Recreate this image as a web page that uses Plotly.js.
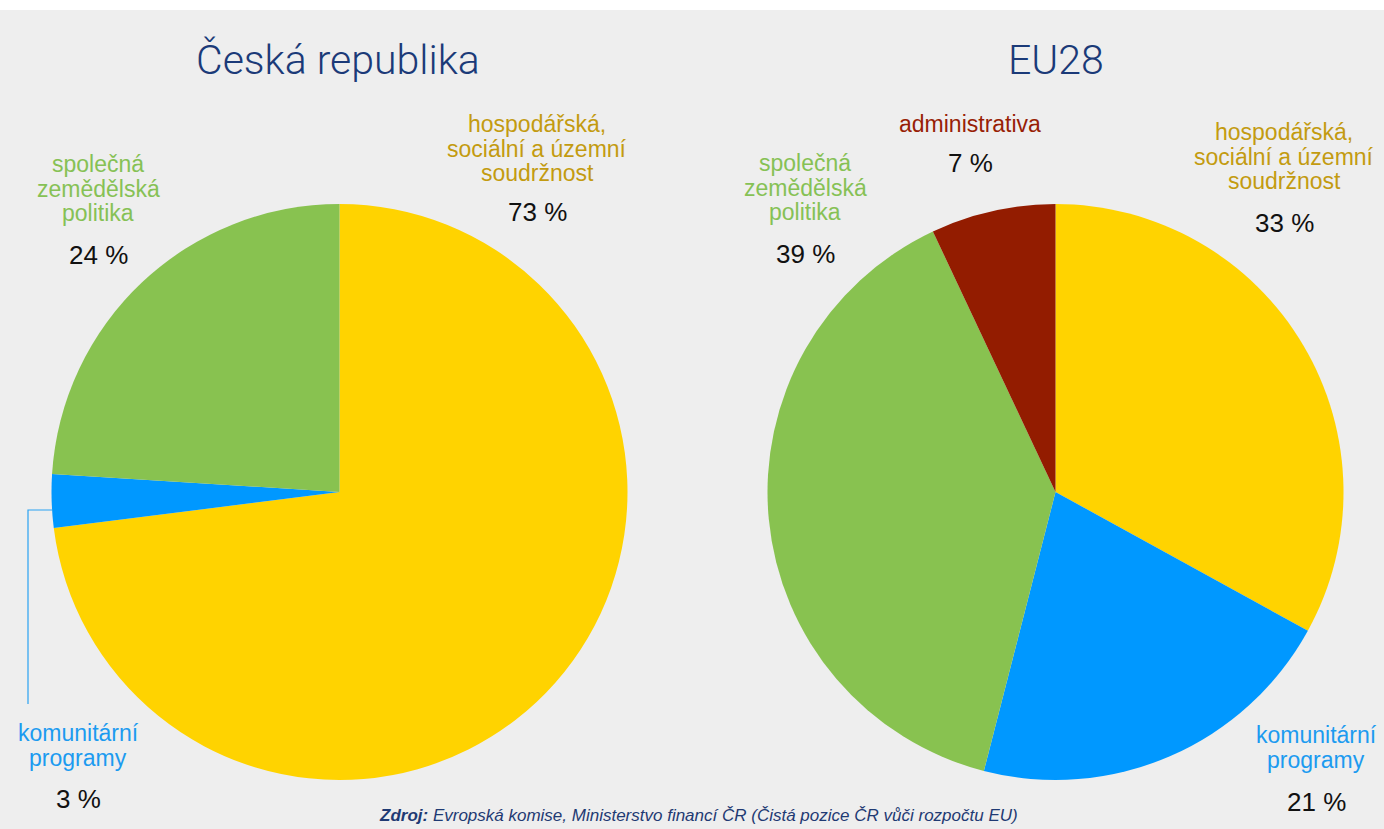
<!DOCTYPE html>
<html>
<head>
<meta charset="utf-8">
<script src="https://cdn.plot.ly/plotly-3.0.1.min.js"></script>
<style>
html,body{margin:0;padding:0;background:#ffffff;}
#chart{position:absolute;left:0;top:10px;width:1384px;height:819px;}
</style>
</head>
<body>
<div id="chart"></div>
<script>
// ---- data ----
const titleCZ = 'Česká republika';
const titleEU = 'EU28';
const labelsCZ = ['hospodářská, sociální a územní soudržnost', 'komunitární programy', 'společná zemědělská politika'];
const valuesCZ = [73, 3, 24];
const labelsEU = ['hospodářská, sociální a územní soudržnost', 'komunitární programy', 'společná zemědělská politika', 'administrativa'];
const valuesEU = [33, 21, 39, 7];
const sourceText = '<b><i>Zdroj:</i></b><i> Evropská komise, Ministerstvo financí ČR (Čistá pozice ČR vůči rozpočtu EU)</i>';

// ---- styling ----
const W = 1384, H = 819, TOP = 10;
const sliceColors = {
  'hospodářská, sociální a územní soudržnost': '#FFD300',
  'komunitární programy': '#0098FF',
  'společná zemědělská politika': '#88C250',
  'administrativa': '#931C00'
};
const textColors = {
  'hospodářská, sociální a územní soudržnost': '#C39B10',
  'komunitární programy': '#1C9BF0',
  'společná zemědělská politika': '#86C155',
  'administrativa': '#981E06'
};
const lineBreaks = {
  'hospodářská, sociální a územní soudržnost': ['hospodářská,', 'sociální a územní', 'soudržnost'],
  'komunitární programy': ['komunitární', 'programy'],
  'společná zemědělská politika': ['společná', 'zemědělská', 'politika'],
  'administrativa': ['administrativa']
};
const px = x => x / W;
const py = y => 1 - (y - TOP) / H;

// label anchor positions (page px): first line center y, percent y
const posCZ = [
  {x: 537, y: 124, py: 212},
  {x: 78, y: 733, py: 799},
  {x: 98, y: 164, py: 255}
];
const posEU = [
  {x: 1284, y: 132, py: 223},
  {x: 1316, y: 735, py: 802},
  {x: 805, y: 163, py: 254},
  {x: 970, y: 124, py: 163}
];

const labelFont = 'Liberation Sans, Arial, sans-serif';
const annotations = [];
function addLabels(labels, values, pos) {
  labels.forEach((lab, i) => {
    const p = pos[i];
    lineBreaks[lab].forEach((ln, j) => {
      annotations.push({xref: 'paper', yref: 'paper', x: px(p.x), y: py(p.y + j * 24.5),
        text: ln, showarrow: false, xanchor: 'center', yanchor: 'middle',
        font: {family: labelFont, size: 23, color: textColors[lab]}});
    });
    annotations.push({xref: 'paper', yref: 'paper', x: px(p.x), y: py(p.py),
      text: values[i] + ' %', showarrow: false, xanchor: 'center', yanchor: 'middle',
      font: {family: labelFont, size: 26, color: '#111111'}});
  });
}
addLabels(labelsCZ, valuesCZ, posCZ);
addLabels(labelsEU, valuesEU, posEU);

[[titleCZ, 338], [titleEU, 1056]].forEach(t => {
  annotations.push({xref: 'paper', yref: 'paper', x: px(t[1]), y: py(60), text: t[0],
    showarrow: false, xanchor: 'center', yanchor: 'middle',
    font: {family: 'Roboto, Liberation Sans, sans-serif', size: 41, weight: 300, color: '#1B3A78'}});
});
annotations.push({xref: 'paper', yref: 'paper', x: px(698), y: py(815), text: sourceText,
  showarrow: false, xanchor: 'center', yanchor: 'middle',
  font: {family: labelFont, size: 17, color: '#1F3A73'}});

const R = 288;
function pieTrace(labels, values, cx, cy) {
  return {
    type: 'pie', labels: labels, values: values, sort: false, direction: 'clockwise', rotation: 0,
    marker: {colors: labels.map(l => sliceColors[l]), line: {width: 0}},
    textinfo: 'none', hoverinfo: 'label+percent', showlegend: false,
    domain: {x: [px(cx - R), px(cx + R)], y: [py(cy + R), py(cy - R)]}
  };
}

const data = [pieTrace(labelsCZ, valuesCZ, 339.5, 492), pieTrace(labelsEU, valuesEU, 1055.5, 492)];

const layout = {
  width: W, height: H,
  margin: {l: 0, r: 0, t: 0, b: 0},
  paper_bgcolor: '#EEEEEE', plot_bgcolor: '#EEEEEE',
  showlegend: false,
  annotations: annotations,
  shapes: [{type: 'path', xref: 'paper', yref: 'paper',
    path: `M ${px(53)} ${py(510)} L ${px(28)} ${py(510)} L ${px(28)} ${py(704)}`,
    line: {color: '#2AA2F2', width: 1.2}}]
};
Plotly.newPlot('chart', data, layout, {displayModeBar: false, staticPlot: true});
</script>
</body>
</html>
